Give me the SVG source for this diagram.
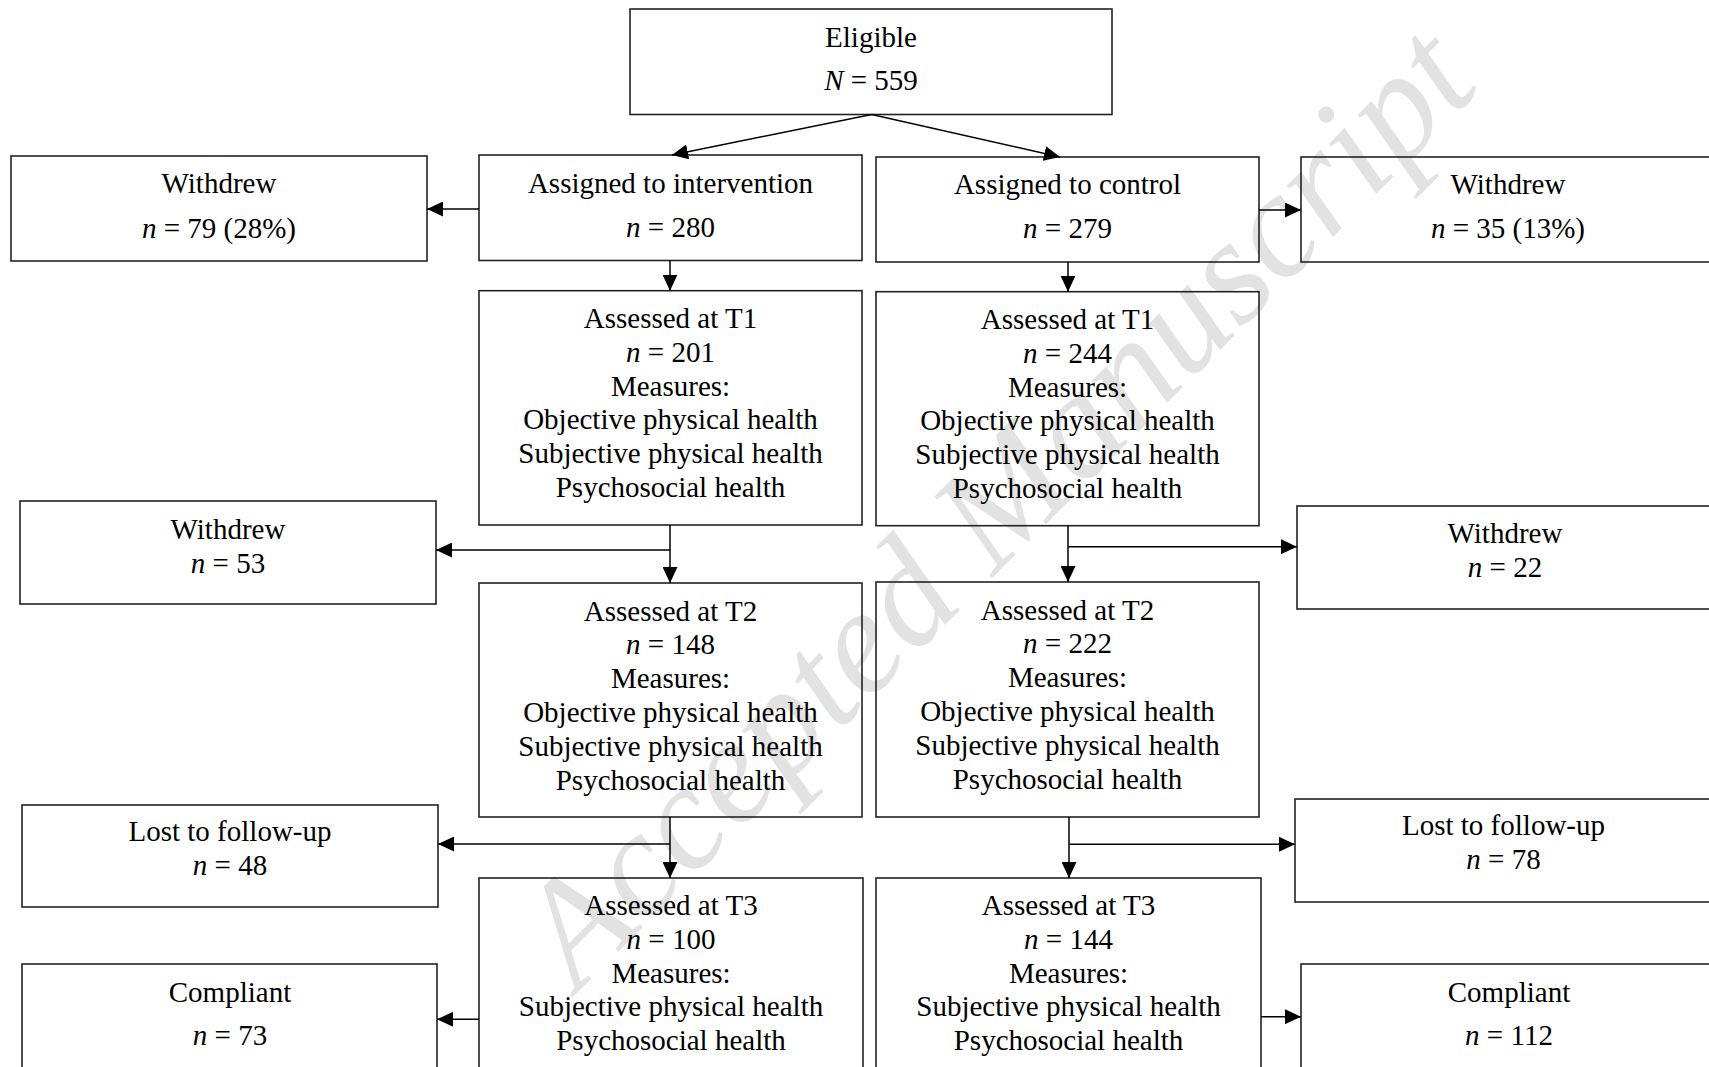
<svg xmlns="http://www.w3.org/2000/svg" width="1709" height="1067" viewBox="0 0 1709 1067">
<style>
.box{fill:none;stroke:#222;stroke-width:1.6}
.t{font-family:"Liberation Serif","Times New Roman",serif;font-size:29px;fill:#000;text-anchor:middle}
.i{font-style:italic}
.c{fill:none;stroke:#000;stroke-width:1.5}
.wm{font-family:"Liberation Serif","Times New Roman",serif;font-style:italic;font-size:150px;fill:#e2e2e2;text-anchor:middle}
</style>
<defs>
<marker id="ah" markerUnits="userSpaceOnUse" markerWidth="16" markerHeight="15" refX="16" refY="7.5" orient="auto">
<path d="M0,0 L16,7.5 L0,15 z" fill="#000"/>
</marker>
</defs>
<rect width="1709" height="1067" fill="#fff"/>
<text class="wm" x="1030" y="540" transform="rotate(-45 1030 540)">Accepted Manuscript</text>

<g id="eligible"><rect class="box" x="630" y="9" width="482" height="105.5"/>
<text class="t" x="871" y="47">Eligible</text>
<text class="t" x="871" y="90"><tspan class="i">N</tspan> = 559</text></g>

<g id="withdrew-int-1"><rect class="box" x="11" y="156" width="416" height="105"/>
<text class="t" x="219" y="193">Withdrew</text>
<text class="t" x="219" y="238"><tspan class="i">n</tspan> = 79 (28%)</text></g>

<g id="assigned-int"><rect class="box" x="479" y="155" width="383" height="105.5"/>
<text class="t" x="670.5" y="193">Assigned to intervention</text>
<text class="t" x="670.5" y="237"><tspan class="i">n</tspan> = 280</text></g>

<g id="assigned-ctl"><rect class="box" x="876" y="157" width="383" height="105"/>
<text class="t" x="1067.5" y="193.5">Assigned to control</text>
<text class="t" x="1067.5" y="237.5"><tspan class="i">n</tspan> = 279</text></g>

<g id="withdrew-ctl-1"><rect class="box" x="1301" y="157" width="416" height="105"/>
<text class="t" x="1508" y="193.5">Withdrew</text>
<text class="t" x="1508" y="237.5"><tspan class="i">n</tspan> = 35 (13%)</text></g>

<g id="t1-int"><rect class="box" x="479" y="290.7" width="383" height="234.3"/>
<text class="t" x="670.5" y="328">Assessed at T1</text>
<text class="t" x="670.5" y="361.8"><tspan class="i">n</tspan> = 201</text>
<text class="t" x="670.5" y="395.6">Measures:</text>
<text class="t" x="670.5" y="429.4">Objective physical health</text>
<text class="t" x="670.5" y="463.2">Subjective physical health</text>
<text class="t" x="670.5" y="497">Psychosocial health</text></g>

<g id="t1-ctl"><rect class="box" x="876" y="291.7" width="383" height="234"/>
<text class="t" x="1067.5" y="329">Assessed at T1</text>
<text class="t" x="1067.5" y="362.8"><tspan class="i">n</tspan> = 244</text>
<text class="t" x="1067.5" y="396.6">Measures:</text>
<text class="t" x="1067.5" y="430.4">Objective physical health</text>
<text class="t" x="1067.5" y="464.2">Subjective physical health</text>
<text class="t" x="1067.5" y="498">Psychosocial health</text></g>

<g id="withdrew-int-2"><rect class="box" x="20" y="501" width="416" height="103"/>
<text class="t" x="228" y="539">Withdrew</text>
<text class="t" x="228" y="573"><tspan class="i">n</tspan> = 53</text></g>

<g id="withdrew-ctl-2"><rect class="box" x="1297" y="506" width="417" height="103"/>
<text class="t" x="1505" y="543">Withdrew</text>
<text class="t" x="1505" y="577"><tspan class="i">n</tspan> = 22</text></g>

<g id="t2-int"><rect class="box" x="479" y="583" width="383" height="234"/>
<text class="t" x="670.5" y="620.5">Assessed at T2</text>
<text class="t" x="670.5" y="654.3"><tspan class="i">n</tspan> = 148</text>
<text class="t" x="670.5" y="688.1">Measures:</text>
<text class="t" x="670.5" y="721.9">Objective physical health</text>
<text class="t" x="670.5" y="755.7">Subjective physical health</text>
<text class="t" x="670.5" y="789.5">Psychosocial health</text></g>

<g id="t2-ctl"><rect class="box" x="876" y="582" width="383" height="235"/>
<text class="t" x="1067.5" y="619.5">Assessed at T2</text>
<text class="t" x="1067.5" y="653.3"><tspan class="i">n</tspan> = 222</text>
<text class="t" x="1067.5" y="687.1">Measures:</text>
<text class="t" x="1067.5" y="720.9">Objective physical health</text>
<text class="t" x="1067.5" y="754.7">Subjective physical health</text>
<text class="t" x="1067.5" y="788.5">Psychosocial health</text></g>

<g id="lost-int"><rect class="box" x="22" y="805" width="416" height="102"/>
<text class="t" x="230" y="841">Lost to follow-up</text>
<text class="t" x="230" y="875"><tspan class="i">n</tspan> = 48</text></g>

<g id="lost-ctl"><rect class="box" x="1295" y="799" width="417" height="103"/>
<text class="t" x="1503.5" y="835">Lost to follow-up</text>
<text class="t" x="1503.5" y="868.5"><tspan class="i">n</tspan> = 78</text></g>

<g id="t3-int"><rect class="box" x="479" y="878" width="384" height="200"/>
<text class="t" x="671" y="915">Assessed at T3</text>
<text class="t" x="671" y="948.8"><tspan class="i">n</tspan> = 100</text>
<text class="t" x="671" y="982.6">Measures:</text>
<text class="t" x="671" y="1016.4">Subjective physical health</text>
<text class="t" x="671" y="1050.2">Psychosocial health</text></g>

<g id="t3-ctl"><rect class="box" x="876" y="878" width="385" height="200"/>
<text class="t" x="1068.5" y="915">Assessed at T3</text>
<text class="t" x="1068.5" y="948.8"><tspan class="i">n</tspan> = 144</text>
<text class="t" x="1068.5" y="982.6">Measures:</text>
<text class="t" x="1068.5" y="1016.4">Subjective physical health</text>
<text class="t" x="1068.5" y="1050.2">Psychosocial health</text></g>

<g id="compliant-int"><rect class="box" x="22" y="964" width="415" height="120"/>
<text class="t" x="230" y="1002">Compliant</text>
<text class="t" x="230" y="1045"><tspan class="i">n</tspan> = 73</text></g>

<g id="compliant-ctl"><rect class="box" x="1301" y="964" width="416" height="120"/>
<text class="t" x="1509" y="1002">Compliant</text>
<text class="t" x="1509" y="1045"><tspan class="i">n</tspan> = 112</text></g>

<g id="connectors">
<line class="c" x1="871.7" y1="114.5" x2="672" y2="155" marker-end="url(#ah)"/>
<line class="c" x1="871.7" y1="114.5" x2="1060" y2="157" marker-end="url(#ah)"/>
<line class="c" x1="479" y1="209" x2="427" y2="209" marker-end="url(#ah)"/>
<line class="c" x1="1259" y1="210" x2="1301" y2="210" marker-end="url(#ah)"/>
<line class="c" x1="670" y1="260.5" x2="670" y2="290.7" marker-end="url(#ah)"/>
<line class="c" x1="1068" y1="262" x2="1068" y2="291.7" marker-end="url(#ah)"/>
<line class="c" x1="670" y1="525" x2="670" y2="583" marker-end="url(#ah)"/>
<line class="c" x1="670" y1="550" x2="436" y2="550" marker-end="url(#ah)"/>
<line class="c" x1="1068" y1="525.7" x2="1068" y2="582" marker-end="url(#ah)"/>
<line class="c" x1="1068" y1="546.7" x2="1297" y2="546.7" marker-end="url(#ah)"/>
<line class="c" x1="670" y1="817" x2="670" y2="878" marker-end="url(#ah)"/>
<line class="c" x1="670" y1="844" x2="438" y2="844" marker-end="url(#ah)"/>
<line class="c" x1="1069" y1="817" x2="1069" y2="878" marker-end="url(#ah)"/>
<line class="c" x1="1069" y1="844.3" x2="1295" y2="844.3" marker-end="url(#ah)"/>
<line class="c" x1="479" y1="1019.3" x2="437" y2="1019.3" marker-end="url(#ah)"/>
<line class="c" x1="1261" y1="1016.7" x2="1301" y2="1016.7" marker-end="url(#ah)"/>
</g>
</svg>
